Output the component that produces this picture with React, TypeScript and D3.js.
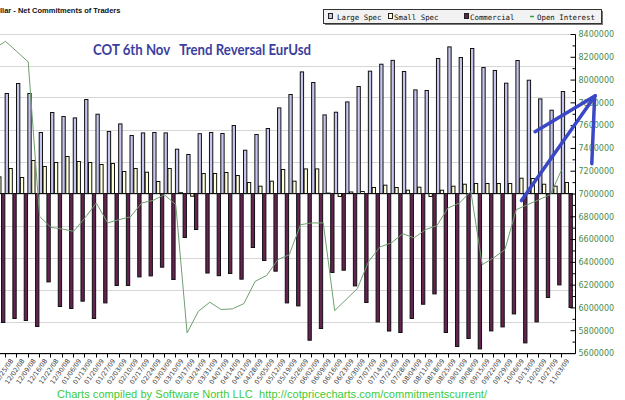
import { useEffect, useRef } from "react";
import * as d3 from "d3";

const width = 625;
const height = 400;

// weekly report dates (first one is mostly off the left edge)
const weeks = [
  "11/18/08", "11/25/08", "12/02/08", "12/09/08", "12/16/08", "12/22/08", "12/30/08",
  "01/06/09", "01/13/09", "01/20/09", "01/27/09", "02/03/09", "02/10/09", "02/17/09",
  "02/24/09", "03/03/09", "03/10/09", "03/17/09", "03/24/09", "03/31/09", "04/07/09",
  "04/14/09", "04/21/09", "04/28/09", "05/05/09", "05/12/09", "05/19/09", "05/26/09",
  "06/02/09", "06/09/09", "06/16/09", "06/23/09", "06/30/09", "07/07/09", "07/14/09",
  "07/21/09", "07/28/09", "08/04/09", "08/11/09", "08/18/09", "08/25/09", "09/01/09",
  "09/08/09", "09/15/09", "09/22/09", "09/29/09", "10/06/09", "10/13/09", "10/20/09",
  "10/27/09", "11/03/09",
];

const largeSpec = [
  130000, 125000, 137500, 125000, 76250, 101250, 96250, 94500, 117500, 99100, 77500,
  87000, 72500, 75750, 76250, 75750, 55400, 48750, 74750, 76250, 75000, 85000, 54100,
  73750, 81250, 107000, 123750, 152000, 138750, 98250, 101600, 114500, 133750, 152900,
  161600, 166400, 152500, 129500, 128750, 168750, 183250, 170000, 181250, 157500,
  153750, 137900, 166250, 141600, 118250, 104100, 127500,
];

const smallSpec = [
  20750, 31250, 20000, 41250, 33750, 38750, 46250, 40000, 38750, 36250, 37500, 27500,
  31250, 26600, 15000, 31250, 1000, -3400, 25000, 25000, 26250, 22500, 13750, 9100,
  15400, 30000, 15400, 30750, 30750, 500, -3750, 1900, 2500, 7500, 10400, 7500, 4100,
  7900, -3750, 4100, 9100, 11600, 12500, 12500, 12500, 12500, 19100, 18750, 11600,
  9100, 13750,
];

const commercial = [
  -161250, -156250, -158750, -166250, -110500, -141250, -143750, -134600, -156250,
  -136750, -115000, -115000, -104250, -103000, -92100, -107500, -55000, -45000, -99400,
  -102750, -100000, -107100, -67500, -83750, -97100, -136750, -140500, -183400, -168750,
  -98750, -95900, -115500, -136250, -160500, -171900, -173750, -156250, -138400, -125500,
  -173750, -191250, -181250, -194250, -171750, -166750, -150500, -186750, -160500,
  -130000, -114250, -142500,
];

const openInterest = [
  8275000, 8340000, 8250000, 8160000, 6804000, 6707000, 6693000, 6672000, 6790000,
  6921000, 6746000, 6775000, 6799000, 6921000, 6944000, 6994000, 6906000, 5781000,
  5971000, 6050000, 5986000, 5992000, 6038000, 6234000, 6284000, 6424000, 6468000,
  6731000, 6746000, 6746000, 5977000, 6073000, 6170000, 6409000, 6536000, 6571000,
  6652000, 6615000, 6687000, 6722000, 6878000, 6921000, 7023000, 6380000, 6439000,
  6512000, 6863000, 6906000, 6950000, 6994000, 7213000,
];

const seriesNames = ["Large Spec", "Small Spec", "Commercial"];
const seriesFill = ["#c5c5ee", "#ffffd9", "#652352"];
const rightTicks = d3.range(5600000, 8400001, 200000);

// hand drawn arrows: [week index, open interest level]
const arrows = [
  [[47.7, 7547000], [53.0, 7862000]],
  [[46.5, 6942000], [53.0, 7862000]],
  [[52.7, 7266000], [52.95, 7854000]],
];

const App = () => {
  const chartRef = useRef<SVGSVGElement>(null);
  useEffect(() => {
    drawChart();
  }, []);

  const drawChart = () => {
    const svg = d3.select(chartRef.current);
    svg.selectAll("*").remove();

    const step = 11.35;
    const top = 33.5;
    const bottom = 353.5;
    const axisX = 575.5;

    const x = d3.scaleBand<string>()
      .domain(weeks)
      .range([5 - step, 5 + (weeks.length - 1) * step]);
    const inner = d3.scaleBand<string>()
      .domain(seriesNames)
      .range([0, step])
      .paddingInner(0.14)
      .paddingOuter(0.04);
    const yL = d3.scaleLinear().domain([-200000, 200000]).range([bottom, top]);
    const yR = d3.scaleLinear().domain([5600000, 8400000]).range([bottom, top + 1]);
    const xi = d3.scaleLinear().domain([0, weeks.length - 1]).range([x(weeks[0])!, x(weeks[weeks.length - 1])!]);

    svg.append("rect").attr("width", width).attr("height", height).attr("fill", "#fff");

    // gridlines
    svg.append("g")
      .selectAll("line")
      .data(d3.range(-200000, 200001, 40000))
      .enter().append("line")
      .attr("x1", 0)
      .attr("x2", axisX)
      .attr("y1", d => Math.round(yL(d)) + 0.5)
      .attr("y2", d => Math.round(yL(d)) + 0.5)
      .attr("stroke", "#d6d6d6")
      .attr("stroke-width", 1.2);

    // bars
    const series = [largeSpec, smallSpec, commercial];
    series.forEach((vals, s) => {
      svg.append("g")
        .selectAll("rect")
        .data(vals)
        .enter().append("rect")
        .attr("x", (d, i) => x(weeks[i])! + inner(seriesNames[s])!)
        .attr("y", d => (d >= 0 ? yL(d) : yL(0)))
        .attr("width", inner.bandwidth())
        .attr("height", d => Math.abs(yL(d) - yL(0)))
        .attr("fill", seriesFill[s])
        .attr("stroke", "#111")
        .attr("stroke-width", 1);
    });

    // open interest
    const line = d3.line<number>()
      .x((d, i) => x(weeks[i])! + 0.5)
      .y(d => yR(d));
    svg.append("path")
      .datum(openInterest)
      .attr("d", line)
      .attr("fill", "none")
      .attr("stroke", "#6f9f6f")
      .attr("stroke-width", 1);

    // bottom axis
    const xAxis = svg.append("g");
    xAxis.append("line")
      .attr("x1", 0).attr("x2", axisX)
      .attr("y1", bottom).attr("y2", bottom)
      .attr("stroke", "#000");
    xAxis.selectAll(".tick")
      .data(weeks)
      .enter().append("line")
      .attr("x1", d => Math.round(x(d)!) + 0.5)
      .attr("x2", d => Math.round(x(d)!) + 0.5)
      .attr("y1", bottom)
      .attr("y2", bottom + 4)
      .attr("stroke", "#000");
    xAxis.selectAll("text")
      .data(weeks.slice(1))
      .enter().append("text")
      .attr("transform", d => `translate(${x(d)! + step / 2 + 1},${bottom + 6}) rotate(-55)`)
      .attr("text-anchor", "end")
      .attr("dy", "0.35em")
      .attr("font-family", "DejaVu Sans")
      .attr("font-size", 6.5)
      .attr("fill", "#333")
      .text(d => d);

    // right axis
    const rAxis = svg.append("g");
    rAxis.append("line")
      .attr("x1", axisX).attr("x2", axisX)
      .attr("y1", yR(8400000)).attr("y2", bottom)
      .attr("stroke", "#000");
    rAxis.selectAll(".minor")
      .data(d3.range(5700000, 8400000, 200000))
      .enter().append("line")
      .attr("x1", axisX - 3).attr("x2", axisX)
      .attr("y1", d => yR(d)).attr("y2", d => yR(d))
      .attr("stroke", "#000");
    rAxis.selectAll(".major")
      .data(rightTicks)
      .enter().append("line")
      .attr("x1", axisX - 5).attr("x2", axisX)
      .attr("y1", d => yR(d)).attr("y2", d => yR(d))
      .attr("stroke", "#000");
    rAxis.selectAll("text")
      .data(rightTicks)
      .enter().append("text")
      .attr("x", axisX + 3)
      .attr("y", d => yR(d))
      .attr("dy", "0.35em")
      .attr("font-family", "DejaVu Sans")
      .attr("font-size", 8)
      .attr("fill", "#4b8b4b")
      .text(d => d3.format("d")(d));

    // header
    svg.append("text")
      .attr("x", 0).attr("y", 13)
      .attr("font-family", "Liberation Sans")
      .attr("font-weight", "bold")
      .attr("font-size", 7.5)
      .attr("fill", "#111")
      .text("llar - Net Commitments of Traders");

    // legend
    const lg = svg.append("g");
    lg.append("rect").attr("x", 325).attr("y", 11).attr("width", 278).attr("height", 14).attr("fill", "#777");
    lg.append("rect").attr("x", 323.5).attr("y", 9.5).attr("width", 278).attr("height", 14)
      .attr("fill", "#f2f2f2").attr("stroke", "#333");
    const legendX = [328, 388, 464, 530];
    const legendTextX = [337, 394, 470, 537];
    const legendNames = [...seriesNames, "Open Interest"];
    legendNames.forEach((name, i) => {
      if (i < 3) {
        lg.append("rect").attr("x", legendX[i] + 0.5).attr("y", 13.5).attr("width", 4).attr("height", 5)
          .attr("fill", seriesFill[i]).attr("stroke", "#222");
      } else {
        lg.append("line").attr("x1", legendX[i]).attr("x2", legendX[i] + 4)
          .attr("y1", 16.5).attr("y2", 16.5).attr("stroke", "#3c9c3c").attr("stroke-width", 1.5);
      }
      lg.append("text")
        .attr("x", legendTextX[i]).attr("y", 19.5)
        .attr("font-family", "DejaVu Sans Mono")
        .attr("font-size", 7.4)
        .attr("fill", "#111")
        .text(name);
    });

    // annotation
    svg.append("text")
      .attr("x", 93).attr("y", 55)
      .attr("font-family", "Lato")
      .attr("font-weight", "bold")
      .attr("font-size", 15.5)
      .attr("fill", "#3d3f9e")
      .attr("textLength", 218)
      .attr("lengthAdjust", "spacingAndGlyphs")
      .style("white-space", "pre")
      .text("COT 6th Nov   Trend Reversal EurUsd");

    svg.append("g")
      .selectAll("line")
      .data(arrows)
      .enter().append("line")
      .attr("x1", d => xi(d[0][0])).attr("y1", d => yR(d[0][1]))
      .attr("x2", d => xi(d[1][0])).attr("y2", d => yR(d[1][1]))
      .attr("stroke", "#3a48c6")
      .attr("stroke-width", 3.5)
      .attr("stroke-linecap", "round");

    // footer
    svg.append("text")
      .attr("x", 57).attr("y", 398)
      .attr("font-family", "Liberation Sans")
      .attr("font-size", 11)
      .attr("fill", "#3acb3a")
      .attr("textLength", 430)
      .style("white-space", "pre")
      .text("Charts compiled by Software North LLC  http://cotpricecharts.com/commitmentscurrent/");
  };

  return (
    <svg
      ref={chartRef}
      width={width}
      height={height}
      style={{ position: "absolute", left: 0, top: 0, display: "block" }}
    ></svg>
  );
};

export default App;
